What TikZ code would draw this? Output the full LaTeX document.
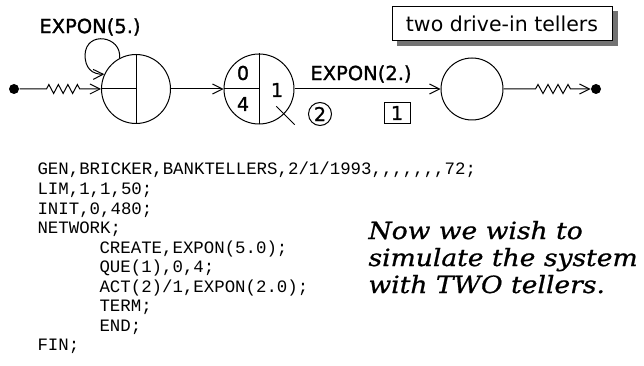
\documentclass[tikz,border=0pt]{standalone}
\usepackage{fontspec}
\setmainfont{DejaVu Sans}
\newfontfamily\labfont[FakeBold=1.2]{DejaVu Sans}
\newfontfamily\boxfont{DejaVu Sans}
\newfontfamily\codefont{Liberation Mono}
\newfontfamily\notefont[FakeStretch=1.12,FakeBold=0.8]{DejaVu Serif}
\usetikzlibrary{arrows.meta,decorations.pathmorphing,backgrounds,calc}
\begin{document}
\begin{tikzpicture}[x=1pt,y=-1pt,line width=1pt,
  stn/.style={circle,draw,inner sep=0pt,minimum size=#1},
  term/.style={circle,fill,inner sep=0pt,minimum size=10pt},
  arr/.style={-{Straight Barb[length=10pt,width=10pt]}},
  lab/.style={font=\labfont\fontsize{19.5}{23}\selectfont,inner sep=0pt},
  dig/.style={font=\labfont\fontsize{19}{22}\selectfont,inner sep=0pt},
  code/.style={font=\codefont\fontsize{17.4}{20}\selectfont,anchor=base west,inner sep=0pt},
  note/.style={font=\notefont\itshape\fontsize{23.7}{27}\selectfont,anchor=base west,inner sep=0pt}]
\useasboundingbox (0,0) rectangle (644,366);
% stations
\node[term] (dL) at (14,89) {};
\node[stn=69pt] (c1) at (136,89) {};
\node[stn=70pt] (c2) at (259,89) {};
\node[stn=62pt] (c3) at (472,89) {};
\node[term] (dR) at (596,89) {};
% internal lines
\draw (c1.north) -- (c1.south);
\draw (c1.west) -- (c1.center);
\draw (c2.north) -- (c2.south);
\draw (c2.west) -- (c2.center);
\draw ($(c2.center)!0.69!(c2.-45)$) -- ($(c2.center)!1.42!(c2.-45)$);
% connectors
\draw[arr,decorate,decoration={zigzag,segment length=9.5pt,amplitude=4.5pt,pre length=27pt,post length=17pt}] (dL) -- (c1);
\draw[arr] (c1.118) .. controls (122,36) and (86,30) .. (85,55) .. controls (85,68) and (92,74.4) .. (c1.155);
\draw[arr] (c1) -- (c2);
\draw[arr] (c2) -- (c3);
\draw[arr,decorate,decoration={zigzag,segment length=10pt,amplitude=4.5pt,pre length=32pt,post length=16pt}] (c3) -- (dR);
% labels
\node[lab] (l5) at (90,27) {EXPON(5.)};
\node[lab] (l2) at (361,74) {EXPON(2.)};
\node[dig] (q0) at (243,73) {0};
\node[dig] (q4) at (243,104) {4};
\node[dig] (s1) at (277,90) {1};
\node[dig,circle,draw,minimum size=23pt] (n2) at (320,114) {2};
\node[dig,draw,minimum width=26pt,minimum height=21pt] (b1) at (397,113) {1};
% title box with shadow
\node[draw,fill=white,inner sep=0pt,minimum width=220pt,minimum height=34pt,
  font=\boxfont\fontsize{20.5}{24}\selectfont] (title) at (502,24) {two drive-in tellers};
\begin{scope}[on background layer]
\fill[black!55] ($(title.south west)+(5,5)$) rectangle ($(title.north east)+(5,5)$);
\end{scope}
% code
\node[code] (k1) at (37,175) {GEN,BRICKER,BANKTELLERS,2/1/1993,,,,,,,72;};
\node[code] (k2) at (37,194.5) {LIM,1,1,50;};
\node[code] (k3) at (37,214) {INIT,0,480;};
\node[code] (k4) at (37,233.5) {NETWORK;};
\node[code] (k5) at (99,253) {CREATE,EXPON(5.0);};
\node[code] (k6) at (99,272.5) {QUE(1),0,4;};
\node[code] (k7) at (99,292) {ACT(2)/1,EXPON(2.0);};
\node[code] (k8) at (99,311.5) {TERM;};
\node[code] (k9) at (99,331) {END;};
\node[code] (k10) at (37,350.5) {FIN;};
% note
\node[note] (m1) at (368,239) {Now we wish to};
\node[note] (m2) at (368,266) {simulate the system};
\node[note] (m3) at (368,293) {with TWO tellers.};
\end{tikzpicture}
\end{document}
